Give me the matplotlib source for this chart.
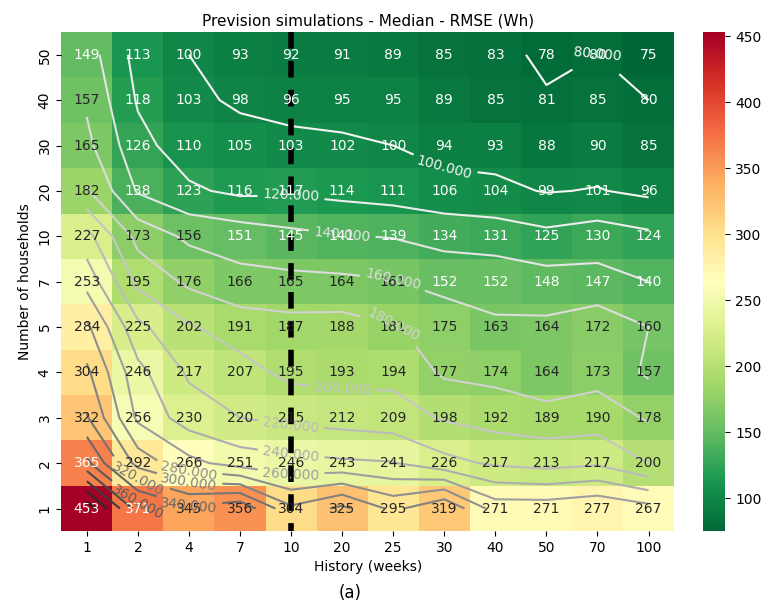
import matplotlib
matplotlib.use("Agg")
import matplotlib.pyplot as plt
import numpy as np
import seaborn as sns

history = [1, 2, 4, 7, 10, 20, 25, 30, 40, 50, 70, 100]
households = [50, 40, 30, 20, 10, 7, 5, 4, 3, 2, 1]

rmse_50 = [149, 113, 100, 93, 92, 91, 89, 85, 83, 78, 80, 75]
rmse_40 = [157, 118, 103, 98, 96, 95, 95, 89, 85, 81, 85, 80]
rmse_30 = [165, 126, 110, 105, 103, 102, 100, 94, 93, 88, 90, 85]
rmse_20 = [182, 138, 123, 116, 117, 114, 111, 106, 104, 99, 101, 96]
rmse_10 = [227, 173, 156, 151, 145, 141, 139, 134, 131, 125, 130, 124]
rmse_7 = [253, 195, 176, 166, 165, 164, 161, 152, 152, 148, 147, 140]
rmse_5 = [284, 225, 202, 191, 187, 188, 181, 175, 163, 164, 172, 160]
rmse_4 = [304, 246, 217, 207, 195, 193, 194, 177, 174, 164, 173, 157]
rmse_3 = [322, 256, 230, 220, 215, 212, 209, 198, 192, 189, 190, 178]
rmse_2 = [365, 292, 266, 251, 246, 243, 241, 226, 217, 213, 217, 200]
rmse_1 = [453, 371, 345, 356, 304, 325, 295, 319, 271, 271, 277, 267]

contour_levels = list(range(80, 441, 20))
split_history = 10

data = np.array([rmse_50, rmse_40, rmse_30, rmse_20, rmse_10, rmse_7,
                 rmse_5, rmse_4, rmse_3, rmse_2, rmse_1])

fig = plt.figure(figsize=(7.66, 6.05), dpi=100)
ax = fig.add_axes([0.080, 0.122, 0.800, 0.825])
cax = fig.add_axes([0.918, 0.122, 0.029, 0.825])

sns.heatmap(data, ax=ax, cbar_ax=cax, cmap="RdYlGn_r", annot=True, fmt="d",
            xticklabels=history, yticklabels=households,
            annot_kws={"fontsize": 10})
ax.set_yticklabels(households, rotation=90, va="center")

# contour lines over the cell centres
xc = np.arange(len(history)) + 0.5
yc = np.arange(len(households)) + 0.5
cs = ax.contour(xc, yc, data, levels=contour_levels, cmap="Greys",
                vmin=60, vmax=480, linewidths=1.5)
ax.clabel(cs, fmt="%.3f", fontsize=10, inline=True)

xi = history.index(split_history) + 0.5
ax.plot([xi, xi], [0, len(households)], color="black", lw=4, ls=(0, (3, 2.2)))

ax.set_title("Prevision simulations - Median - RMSE (Wh)", fontsize=11, pad=5)
ax.set_xlabel("History (weeks)", fontsize=10)
ax.set_ylabel("Number of households", fontsize=10)
fig.text(0.457, 0.012, "(a)", fontsize=12, ha="center")

fig.savefig("out.png", dpi=100)
